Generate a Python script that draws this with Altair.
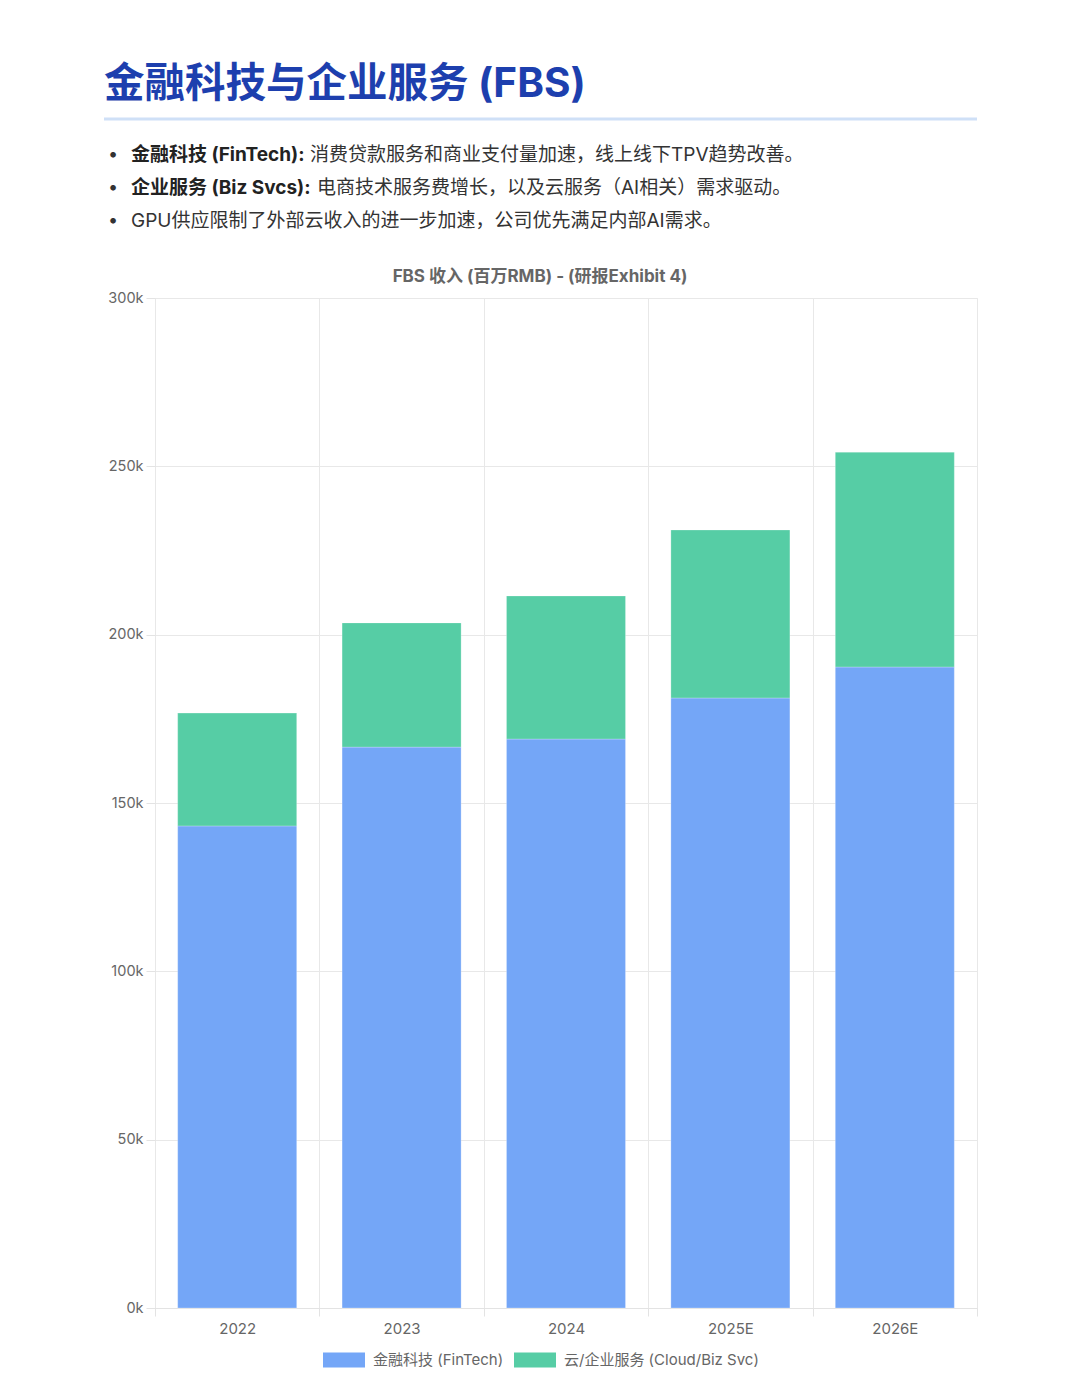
import altair as alt
import pandas as pd

FONT = 'Inter, "Noto Sans CJK SC", sans-serif'

years = ["2022", "2023", "2024", "2025E", "2026E"]
fintech = [143200, 166600, 169000, 181200, 190400]
cloud = [33500, 36900, 42500, 49900, 63800]
series = ["金融科技 (FinTech)", "云/企业服务 (Cloud/Biz Svc)"]
colors = ["#74a6f7", "#56cda5"]
y_ticks = [0, 50000, 100000, 150000, 200000, 250000, 300000]

page_title = "金融科技与企业服务 (FBS)"
bullet_bold = ["金融科技 (FinTech):", "企业服务 (Biz Svcs):", ""]
bullet_text = [
    "消费贷款服务和商业支付量加速，线上线下TPV趋势改善。",
    "电商技术服务费增长，以及云服务（AI相关）需求驱动。",
    "GPU供应限制了外部云收入的进一步加速，公司优先满足内部AI需求。",
]
chart_title = "FBS 收入 (百万RMB) - (研报Exhibit 4)"

rows = []
for i, y in enumerate(years):
    rows.append({"year": y, "series": series[0], "value": fintech[i], "ord": 0})
    rows.append({"year": y, "series": series[1], "value": cloud[i], "ord": 1})
df = pd.DataFrame(rows)

bars = alt.Chart(df).mark_bar(
    width=alt.RelativeBandSize(0.724), stroke="#ffffff", strokeOpacity=0.25, strokeWidth=1
).encode(
    x=alt.X(
        "year:N", sort=years,
        scale=alt.Scale(paddingInner=0, paddingOuter=0),
        axis=alt.Axis(
            title=None, labelAngle=0, tickBand="extent", grid=True,
            gridColor="#e8e8e8", tickColor="#e3e3e3", tickSize=8,
            domainColor="#e3e3e3", labelColor="#666666", labelFontSize=15,
            labelPadding=5, labelFont=FONT,
        ),
    ),
    y=alt.Y(
        "value:Q", stack="zero",
        scale=alt.Scale(domain=[0, 300000], nice=False),
        axis=alt.Axis(
            title=None, values=y_ticks, labelExpr="datum.value / 1000 + 'k'",
            gridColor="#e8e8e8", tickColor="#e3e3e3", tickSize=9,
            domain=False, labelColor="#666666", labelFontSize=14.5,
            labelPadding=3, labelFont=FONT,
        ),
    ),
    color=alt.Color(
        "series:N", sort=series,
        scale=alt.Scale(domain=series, range=colors),
        legend=alt.Legend(
            title=None, orient="none", direction="horizontal",
            legendX=168, legendY=1041,
            symbolType="M-1,-0.357L1,-0.357L1,0.357L-1,0.357Z",
            symbolSize=1764, symbolStrokeWidth=0, symbolOpacity=1,
            labelFontSize=15, labelColor="#666666", labelFont=FONT,
            labelOffset=8, columnPadding=10, labelLimit=400,
        ),
    ),
    order=alt.Order("ord:Q", sort="ascending"),
)

layers = [bars]

layers.append(
    alt.Chart(pd.DataFrame({"t": [page_title]})).mark_text(
        align="left", baseline="alphabetic", fontSize=40.5, fontWeight="bold",
        color="#1d3fae", font=FONT,
    ).encode(x=alt.value(-51), y=alt.value(-201), text="t:N")
)
layers.append(
    alt.Chart(pd.DataFrame({"t": [0]})).mark_rule(color="#cfe0f7", strokeWidth=3).encode(
        x=alt.value(-51), x2=alt.value(822), y=alt.value(-179)
    )
)

line_y = [-143, -110, -77]
text_x = [155, 162, -24]
for i in range(3):
    layers.append(
        alt.Chart(pd.DataFrame({"t": ["•"]})).mark_text(
            align="center", baseline="middle", fontSize=18, color="#333333", font=FONT
        ).encode(x=alt.value(-42), y=alt.value(line_y[i]), text="t:N")
    )
    if bullet_bold[i]:
        layers.append(
            alt.Chart(pd.DataFrame({"t": [bullet_bold[i]]})).mark_text(
                align="left", baseline="middle", fontSize=19, fontWeight="bold",
                color="#222222", font=FONT,
            ).encode(x=alt.value(-24), y=alt.value(line_y[i]), text="t:N")
        )
    layers.append(
        alt.Chart(pd.DataFrame({"t": [bullet_text[i]]})).mark_text(
            align="left", baseline="middle", fontSize=19, color="#333333", font=FONT
        ).encode(x=alt.value(text_x[i]), y=alt.value(line_y[i]), text="t:N")
    )

layers.append(
    alt.Chart(pd.DataFrame({"t": [chart_title]})).mark_text(
        align="center", baseline="middle", fontSize=17, fontWeight="bold",
        color="#666666", font=FONT,
    ).encode(x=alt.value(385), y=alt.value(-21), text="t:N")
)

chart = alt.layer(*layers).properties(
    width=822, height=1010,
    autosize=alt.AutoSizeParams(type="none"),
    padding={"left": 155, "top": 298, "right": 103, "bottom": 89},
    background="white",
).configure_view(stroke="#e8e8e8", strokeWidth=1)

chart.save("out.html", embed_options={"renderer": "svg", "actions": False})
